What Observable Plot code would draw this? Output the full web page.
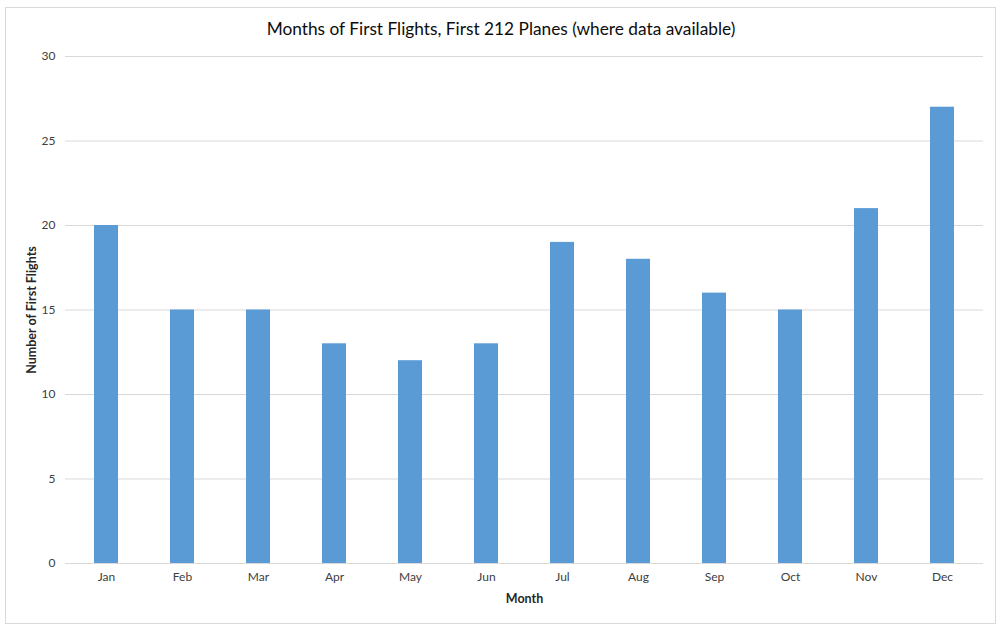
<!DOCTYPE html>
<html>
<head>
<meta charset="utf-8">
<script src="https://cdn.jsdelivr.net/npm/d3@7"></script>
<script src="https://cdn.jsdelivr.net/npm/@observablehq/plot@0.6"></script>
<style>
  html, body { margin: 0; padding: 0; background: #fff; }
  body { width: 1002px; height: 631px; position: relative; overflow: hidden; font-family: Lato, "Open Sans", sans-serif; }
  #frame { position: absolute; left: 5px; top: 7px; width: 989px; height: 615px; border: 1px solid #d9d9d9; pointer-events: none; }
  #title { position: absolute; left: 0; top: 18px; width: 1002px; text-align: center; font-size: 17.3px; color: #0d0d0d; }
  #chart { position: absolute; left: 0; top: 46px; }
</style>
</head>
<body>
<div id="title">Months of First Flights, First 212 Planes (where data available)</div>
<div id="chart"></div>
<div id="frame"></div>
<script>
const months = ["Jan","Feb","Mar","Apr","May","Jun","Jul","Aug","Sep","Oct","Nov","Dec"];
const flights = [20, 15, 15, 13, 12, 13, 19, 18, 16, 15, 21, 27];
const yTicks = [0, 5, 10, 15, 20, 25, 30];
const xLabel = "Month";
const yLabel = "Number of First Flights";

const data = months.map((m, i) => ({month: m, value: flights[i]}));

const chart = Plot.plot({
  width: 1002,
  height: 585,
  marginLeft: 65,
  marginRight: 19,
  marginTop: 10,
  marginBottom: 68,
  style: {fontFamily: "Lato, 'Open Sans', sans-serif", fontSize: "12px", color: "#404040", background: "transparent"},
  x: {domain: months, paddingInner: 0.686, paddingOuter: 0.343},
  y: {domain: [0, 30]},
  marks: [
    Plot.gridY(yTicks, {stroke: "#d9d9d9", strokeOpacity: 1}),
    Plot.barY(data, {x: "month", y: "value", fill: "#5b9bd5"}),
    Plot.axisX({tickSize: 0, tickPadding: 9, label: null, fill: "#404040", fontSize: 12}),
    Plot.axisY({ticks: yTicks, tickSize: 0, tickPadding: 10, label: null, fill: "#404040", fontSize: 12}),
    Plot.text([xLabel], {frameAnchor: "bottom", dy: 39, text: d => d, fontWeight: "bold", fontSize: 12.5, fill: "#262626"}),
    Plot.text([yLabel], {frameAnchor: "left", dx: -34, rotate: -90, textAnchor: "middle", text: d => d, fontWeight: "bold", fontSize: 12.5, fill: "#262626"})
  ]
});
document.getElementById("chart").appendChild(chart);
</script>
</body>
</html>
